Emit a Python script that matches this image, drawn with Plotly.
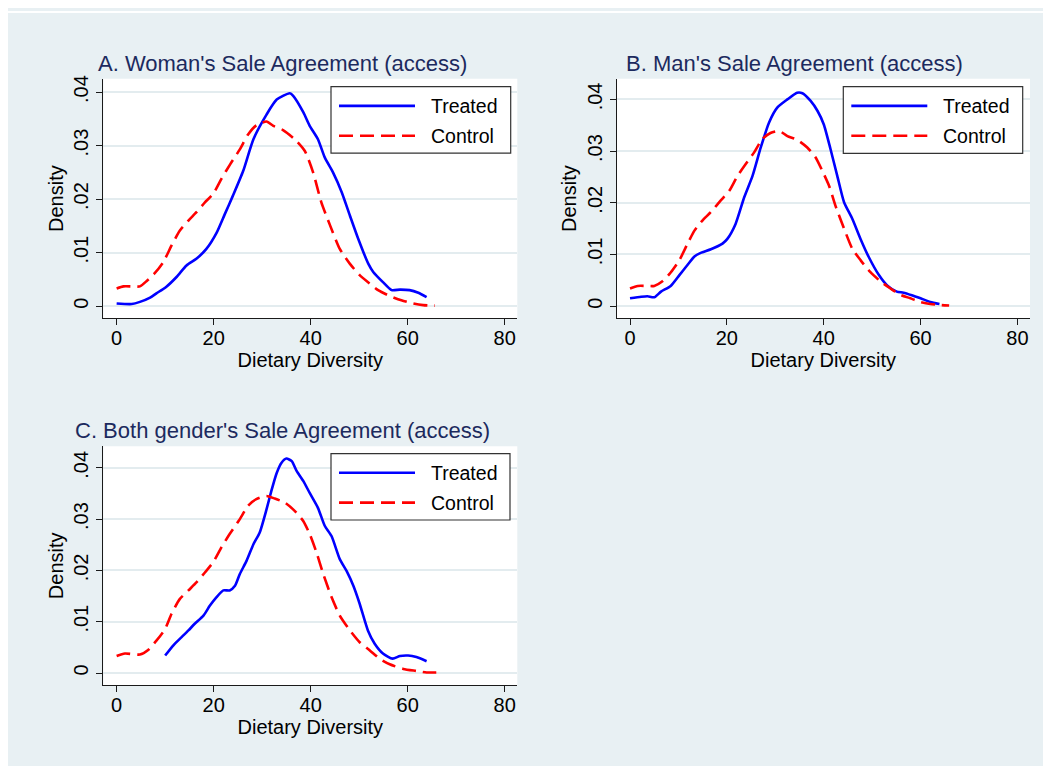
import plotly.graph_objects as go

# page window is 1051x774; the html body keeps its default 8px margin
OFF = 8
W, H = 1051 - 2 * OFF, 774 - 2 * OFF

# ---------------- data ----------------
titles = ["A. Woman's Sale Agreement (access)",
          "B. Man's Sale Agreement (access)",
          "C. Both gender's Sale Agreement (access)"]
series_names = ["Treated", "Control"]
x_ticks = [0, 20, 40, 60, 80]
y_ticks = [0, 0.01, 0.02, 0.03, 0.04]
y_ticktext = ["0", ".01", ".02", ".03", ".04"]
x_title = "Dietary Diversity"
y_title = "Density"

a_treated_x = [0, 3.1, 4.8, 6.9, 8.2, 10.2, 12.4, 14.4, 16.5, 18.5, 20.6, 22.3, 24.0, 26.1, 28.2,
               30.9, 33.0, 35.7, 36.4, 38.5, 39.8, 41.5, 42.9, 44.6, 46.4, 48.1, 49.8, 51.9,
               52.9, 54.9, 56.7, 58.4, 60.4, 62.2, 63.9]
a_treated_y = [.0005, .0004, .0008, .0016, .0024, .0036, .0055, .0076, .0089, .0107, .0137, .0172,
               .0207, .0253, .0312, .0358, .0386, .0398, .0393, .0362, .0337, .0312, .0278, .0250,
               .0213, .0169, .0126, .0079, .0064, .0045, .0030, .0031, .0030, .0025, .0017]
a_control_x = [0, 1.4, 3.1, 4.8, 6.2, 7.9, 9.6, 11.3, 13.0, 14.8, 16.5, 18.2, 19.9, 21.6, 23.4,
               25.4, 27.1, 28.8, 30.9, 32.3, 34.3, 36.7, 38.8, 40.5, 42.2, 44.0, 46.0, 48.1,
               50.1, 52.2, 53.9, 56.3, 58.7, 61.1, 63.2, 65.6]
a_control_y = [.0033, .0037, .0037, .0037, .0047, .0062, .0082, .0113, .0141, .0160, .0176, .0194,
               .0210, .0238, .0265, .0293, .0321, .0338, .0345, .0337, .0329, .0312, .0290, .0250,
               .0194, .0151, .0107, .0079, .0058, .0042, .0030, .0019, .0011, .0005, .0002, .0001]

b_treated_x = [0, 2.3, 3.6, 5.0, 6.4, 8.4, 10.2, 11.9, 13.3, 14.6, 16.7, 19.1, 20.1, 21.8, 23.6,
               25.3, 27.0, 28.7, 30.4, 32.5, 34.5, 35.6, 37.3, 38.7, 40.0, 41.4, 42.8, 44.2,
               45.9, 47.6, 49.3, 51.4, 53.1, 55.1, 56.5, 58.2, 60.0, 62.0, 63.9]
b_treated_y = [.0015, .0018, .0019, .0017, .0028, .0039, .0060, .0080, .0096, .0103, .0110, .0121,
               .0130, .0159, .0211, .0252, .0307, .0355, .0384, .0400, .0413, .0412, .0397, .0378,
               .0352, .0304, .0252, .0201, .0169, .0130, .0095, .0060, .0040, .0028, .0026, .0021,
               .0015, .0008, .0004]
b_control_x = [0, 1.6, 3.6, 5.0, 6.7, 8.4, 10.2, 11.9, 13.3, 15.0, 16.7, 18.7, 20.5, 22.2, 23.9,
               25.6, 27.3, 29.0, 30.8, 32.5, 34.5, 36.6, 38.3, 39.7, 41.1, 42.4, 44.2, 45.9,
               47.6, 49.6, 51.7, 53.8, 55.8, 57.9, 59.9, 62.0, 64.1, 65.9]
b_control_y = [.0034, .0039, .0039, .0039, .0048, .0065, .0089, .0121, .0146, .0166, .0182, .0204,
               .0223, .0252, .0275, .0297, .0323, .0335, .0339, .0329, .0322, .0307, .0288, .0262,
               .0233, .0195, .0150, .0111, .0089, .0066, .0048, .0034, .0022, .0015, .0008, .0004,
               .0002, .0001]

c_treated_x = [10.0, 11.7, 13.4, 14.8, 16.1, 17.9, 19.2, 20.6, 22.0, 23.3, 24.4, 25.4, 26.8, 28.2,
               29.5, 30.9, 31.9, 33.0, 34.0, 35.0, 36.1, 37.1, 38.5, 39.8, 41.5, 42.9, 44.3,
               46.0, 47.4, 48.8, 50.1, 51.8, 53.2, 54.9, 56.9, 58.4, 60.1, 61.8, 63.9]
c_treated_y = [.0034, .0054, .0070, .0083, .0096, .0112, .0131, .0148, .0161, .0161, .0170, .0193,
               .0219, .0251, .0274, .0319, .0355, .0390, .0410, .0418, .0413, .0394, .0374, .0351,
               .0322, .0287, .0267, .0222, .0199, .0170, .0135, .0083, .0057, .0038, .0028, .0033,
               .0034, .0031, .0023]
c_control_x = [0, 1.7, 4.8, 6.5, 8.2, 10.0, 11.3, 13.0, 14.8, 16.5, 18.2, 19.9, 21.6, 23.3, 25.4,
               27.1, 28.8, 30.9, 32.6, 34.7, 36.7, 38.5, 39.8, 41.2, 42.6, 44.3, 46.0, 48.1,
               50.1, 52.2, 54.2, 56.3, 59.1, 61.8, 63.9, 65.9]
c_control_y = [.0033, .0038, .0036, .0045, .0063, .0086, .0115, .0144, .0161, .0177, .0196, .0216,
               .0245, .0271, .0300, .0326, .0339, .0345, .0340, .0332, .0316, .0296, .0271, .0235,
               .0193, .0148, .0112, .0083, .0060, .0044, .0028, .0017, .0008, .0004, .0001, .0001]

# ---------------- layout geometry (page pixels -> paper) ----------------
def fx(px):
    return (px - OFF) / W

def fy(py):
    return 1 - (py - OFF) / H

panels = [
    dict(tx=a_treated_x, ty=a_treated_y, cx=a_control_x, cy=a_control_y,
         box=(103.3, 76, 517.3, 316.7), yr=(-0.0023, 0.0425), title_c=282, title_y=61,
         leg=(331, 84, 510.7, 150.7)),
    dict(tx=b_treated_x, ty=b_treated_y, cx=b_control_x, cy=b_control_y,
         box=(616.7, 76, 1030, 316.7), yr=(-0.0024, 0.0440), title_c=794, title_y=61,
         leg=(843.3, 84, 1022.7, 151)),
    dict(tx=c_treated_x, ty=c_treated_y, cx=c_control_x, cy=c_control_y,
         box=(103.3, 445, 517.3, 685), yr=(-0.0024, 0.0442), title_c=282, title_y=429,
         leg=(331, 452.3, 510, 519)),
]

FONT = "Liberation Sans, Arial, Helvetica, sans-serif"
BLUE = "#0000ff"
RED = "#ff0000"
BG = "#e8f0f3"
GRID = "#e3ecef"
AXC = "#1a1a1a"
TITLEC = "#1c2a5e"
DASH = "14px,7px"
AX_FS = 20
LEG_FS = 19.5
TITLE_FS = 22

fig = go.Figure()
shapes = [dict(type="rect", xref="paper", yref="paper", x0=0, x1=1, y0=fy(10), y1=1,
               fillcolor="white", line=dict(width=0), layer="below")]
annotations = []
layout_axes = {}

for i, p in enumerate(panels):
    n = "" if i == 0 else str(i + 1)
    xa, ya = "x" + n, "y" + n
    fig.add_trace(go.Scatter(x=p["tx"], y=p["ty"], mode="lines", name=series_names[0],
                             line=dict(color=BLUE, width=2.6, shape="spline", smoothing=0.6),
                             xaxis=xa, yaxis=ya, showlegend=False))
    fig.add_trace(go.Scatter(x=p["cx"], y=p["cy"], mode="lines", name=series_names[1],
                             line=dict(color=RED, width=2.6, dash=DASH, shape="spline",
                                       smoothing=0.6),
                             xaxis=xa, yaxis=ya, showlegend=False))
    x0, y0, x1, y1 = p["box"]
    layout_axes["xaxis" + n] = dict(
        domain=[fx(x0), fx(x1)], range=[-2.75, 82.6], anchor=ya,
        tickvals=x_ticks, ticks="outside", ticklen=6, tickcolor=AXC, tickwidth=1,
        ticklabelstandoff=-4,
        showline=True, linecolor=AXC, linewidth=1, showgrid=False, zeroline=False,
        tickfont=dict(family=FONT, size=AX_FS, color="#000000"),
        title=dict(text=x_title, font=dict(family=FONT, size=AX_FS, color="#000000"), standoff=0),
        fixedrange=True)
    layout_axes["yaxis" + n] = dict(
        domain=[fy(y1), fy(y0)], range=list(p["yr"]), anchor=xa,
        tickvals=y_ticks, ticktext=y_ticktext, tickangle=-90,
        ticks="outside", ticklen=6, tickcolor=AXC, tickwidth=1,
        showline=True, linecolor=AXC, linewidth=1, showgrid=True, gridcolor=GRID, gridwidth=1.5,
        zeroline=False,
        tickfont=dict(family=FONT, size=AX_FS, color="#000000"),
        title=dict(text=y_title, font=dict(family=FONT, size=AX_FS, color="#000000"), standoff=1),
        fixedrange=True)
    # panel title
    annotations.append(dict(text=titles[i], xref="paper", yref="paper", x=fx(p["title_c"]),
                            y=fy(p["title_y"]), xanchor="center", yanchor="middle",
                            showarrow=False, font=dict(family=FONT, size=TITLE_FS, color=TITLEC)))
    # legend box
    lx0, ly0, lx1, ly1 = p["leg"]
    shapes.append(dict(type="rect", xref="paper", yref="paper", x0=fx(lx0), x1=fx(lx1),
                       y0=fy(ly1), y1=fy(ly0), fillcolor="white",
                       line=dict(color="#333333", width=1.2)))
    rows = [(ly0 + 19.3, BLUE, None), (ly0 + 49.3, RED, DASH)]
    for (ry, col, dash), name in zip(rows, series_names):
        ln = dict(color=col, width=2.6)
        if dash:
            ln["dash"] = dash
        shapes.append(dict(type="line", xref="paper", yref="paper", x0=fx(lx0 + 8),
                           x1=fx(lx0 + 84), y0=fy(ry), y1=fy(ry), line=ln))
        annotations.append(dict(text=name, xref="paper", yref="paper", x=fx(lx0 + 98),
                                y=fy(ry), xanchor="left", yanchor="middle", showarrow=False,
                                font=dict(family=FONT, size=LEG_FS, color="#000000")))

fig.update_layout(
    width=W, height=H, margin=dict(l=0, r=0, t=0, b=0),
    paper_bgcolor=BG, plot_bgcolor="white",
    shapes=shapes, annotations=annotations, showlegend=False,
    font=dict(family=FONT),
    **layout_axes)

fig.write_html("out.html")
